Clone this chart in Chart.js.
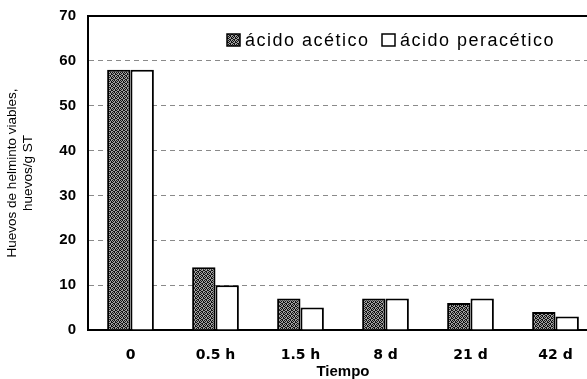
<!DOCTYPE html>
<html>
<head>
<meta charset="utf-8">
<script src="https://cdn.jsdelivr.net/npm/chart.js@4.4.0/dist/chart.umd.min.js"></script>
<style>
  html, body { margin: 0; padding: 0; background: #fff; overflow: hidden; }
  #wrap { width: 604px; height: 379px; }
</style>
</head>
<body>
<div id="wrap"><canvas id="chart" width="604" height="379"></canvas></div>
<script>
const categories = ['0', '0.5 h', '1.5 h', '8 d', '21 d', '42 d'];
const acetico = [58, 14, 7, 7, 6, 4];
const peracetico = [58, 10, 5, 7, 7, 3];
const seriesNames = ['ácido acético', 'ácido peracético'];
const yTicks = [0, 10, 20, 30, 40, 50, 60, 70];

// stippled dark fill like the scanned original
function makeStipple() {
    const c = document.createElement('canvas');
    c.width = 4; c.height = 4;
    const g = c.getContext('2d');
    g.fillStyle = '#a0a0a0';
    g.fillRect(0, 0, 4, 4);
    g.fillStyle = '#111';
    [[0,0],[2,0],[1,1],[3,2],[0,2],[1,3],[2,3],[3,1]].forEach(p => g.fillRect(p[0], p[1], 1, 1));
    return g.createPattern(c, 'repeat');
}
const stipple = makeStipple();

// legend drawn inside the plot area, top right
const innerLegend = {
    id: 'innerLegend',
    afterDraw(chart) {
        const ctx = chart.ctx;
        const y = 40;
        const starts = [227, 382];
        ctx.save();
        ctx.font = '18px "Liberation Sans", Arial, sans-serif';
        ctx.letterSpacing = '1.5px';
        ctx.textBaseline = 'middle';
        chart.data.datasets.forEach((ds, i) => {
            const x = starts[i];
            ctx.fillStyle = ds.backgroundColor;
            ctx.fillRect(x, y - 6, 13, 12);
            ctx.lineWidth = 1.5;
            ctx.strokeStyle = '#000';
            ctx.strokeRect(x, y - 6, 13, 12);
            ctx.fillStyle = '#000';
            ctx.fillText(ds.label, x + 18, y + 1);
        });
        ctx.restore();
    }
};

new Chart(document.getElementById('chart'), {
    type: 'bar',
    data: {
        labels: categories,
        datasets: [
            {
                label: seriesNames[0],
                data: acetico,
                backgroundColor: stipple,
                borderColor: '#000',
                borderWidth: 2,
                borderSkipped: 'bottom'
            },
            {
                label: seriesNames[1],
                data: peracetico,
                backgroundColor: '#fff',
                borderColor: '#000',
                borderWidth: 2,
                borderSkipped: 'bottom'
            }
        ]
    },
    options: {
        responsive: false,
        animation: false,
        layout: { padding: { top: 16, right: 6, bottom: 0, left: 0 } },
        datasets: {
            bar: { categoryPercentage: 0.55, barPercentage: 1 }
        },
        plugins: {
            legend: { display: false },
            tooltip: { enabled: false }
        },
        scales: {
            x: {
                grid: { display: false },
                border: { display: true, color: '#000', width: 2 },
                ticks: {
                    color: '#000',
                    font: { family: '"DejaVu Sans", sans-serif', size: 14, weight: 'bold' },
                    padding: 9,
                    maxRotation: 0
                },
                title: {
                    display: true,
                    text: 'Tiempo',
                    color: '#000',
                    font: { family: '"Liberation Sans", Arial, sans-serif', size: 15, weight: 'bold', lineHeight: 1 },
                    padding: { top: 4, bottom: 0 }
                },
                afterFit: s => { s.height = 49; }
            },
            y: {
                min: 0,
                max: 70,
                afterBuildTicks: s => { s.ticks = yTicks.map(v => ({ value: v })); },
                grid: {
                    drawTicks: false,
                    color: ctx => (ctx.tick && ctx.tick.value === 70) ? '#000' : (ctx.tick && ctx.tick.value === 0 ? 'rgba(0,0,0,0)' : '#8a8a8a'),
                    lineWidth: ctx => (ctx.tick && ctx.tick.value === 70) ? 2 : 1
                },
                border: {
                    display: true,
                    color: '#000',
                    width: 2,
                    dash: ctx => (ctx.tick && ctx.tick.value !== 70) ? [5, 4] : []
                },
                ticks: {
                    color: '#000',
                    font: { family: '"Liberation Sans", Arial, sans-serif', size: 15, weight: 'bold' },
                    padding: 12
                },
                title: {
                    display: true,
                    text: ['Huevos de helminto viables,', 'huevos/g ST'],
                    color: '#000',
                    font: { family: '"Liberation Sans", Arial, sans-serif', size: 13.5 },
                    padding: { top: 4, bottom: 2 }
                },
                afterFit: s => { s.width = 88; s.paddingTop = 0; }
            }
        }
    },
    plugins: [innerLegend]
});
</script>
</body>
</html>
